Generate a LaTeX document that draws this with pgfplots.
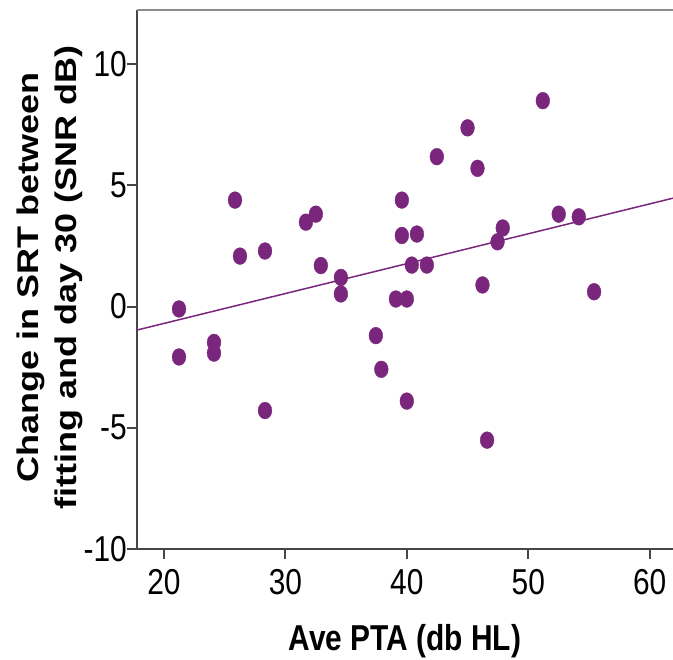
\documentclass[border=0pt]{standalone}
\usepackage{fontspec}
\setmainfont{Liberation Sans}[FakeStretch=0.83]
\newfontfamily\ylfont{Liberation Sans}
\usepackage{pgfplots}
\pgfplotsset{compat=1.18}
\definecolor{pp}{RGB}{123,38,125}
\definecolor{axc}{RGB}{70,70,70}
\definecolor{topc}{RGB}{140,140,140}
\pgfplotstableread{
x y
21.24 -0.10
21.24 -2.08
24.12 -1.48
24.12 -1.92
25.85 4.39
26.26 2.08
28.32 2.29
28.32 -4.29
31.69 3.48
32.51 3.81
32.92 1.69
34.57 1.20
34.57 0.52
37.45 -1.20
37.90 -2.59
39.59 4.39
39.59 2.93
39.10 0.31
40.00 0.31
40.00 -3.90
40.41 1.71
40.83 2.99
41.65 1.71
42.47 6.18
45.00 7.37
45.82 5.70
46.23 0.89
46.61 -5.51
47.47 2.67
47.90 3.24
51.20 8.49
52.51 3.81
54.16 3.70
55.42 0.61
}\pts
\begin{document}
\begin{tikzpicture}
\begin{axis}[name=ax, scale only axis, width=536pt, height=539pt,
 xmin=17.78, xmax=61.92, ymin=-10, ymax=12.23,
 axis x line*=bottom, axis y line*=left,
 axis line style={axc, line width=2pt},
 tick align=outside, major tick length=10pt,
 tick style={axc, line width=2pt},
 xtick={20,30,40,50,60}, ytick={-10,-5,0,5,10},
 minor tick num=0,
 /pgf/number format/assume math mode=true,
 ticklabel style={font=\fontsize{36}{43}\selectfont, inner sep=0pt},
 xticklabel style={anchor=north, yshift=-10pt},
 yticklabel style={anchor=east, xshift=0pt},
 xlabel={\bfseries Ave PTA (db HL)},
 xlabel style={font=\fontsize{36}{43}\selectfont, at={(rel axis cs:0.5,0)}, anchor=base, yshift=-101pt, inner sep=0pt},
 ylabel={\scalebox{1}[0.83]{\ylfont\bfseries\fontsize{36}{46}\selectfont\begin{tabular}{@{}c@{}}Change in SRT between\\fitting and day 30 (SNR dB)\end{tabular}}},
 ylabel style={at={(rel axis cs:-0.162,0.503)}, anchor=center, inner sep=0pt},
 clip=true,
]
\addplot[pp, line width=1.5pt] coordinates {(17.78,-0.97) (61.92,4.47)};
\addplot[only marks, mark=*, mark size=8.4pt, mark options={xscale=0.82, fill=pp, draw=none}, color=pp] table[x=x,y=y] {\pts};
\draw[topc, line width=2.5pt] (rel axis cs:0,1) -- (rel axis cs:1,1);
\end{axis}
\pgfresetboundingbox
\path[use as bounding box] ([xshift=-137pt,yshift=-110pt]ax.south west) rectangle ([yshift=10pt]ax.north east);
\end{tikzpicture}
\end{document}
